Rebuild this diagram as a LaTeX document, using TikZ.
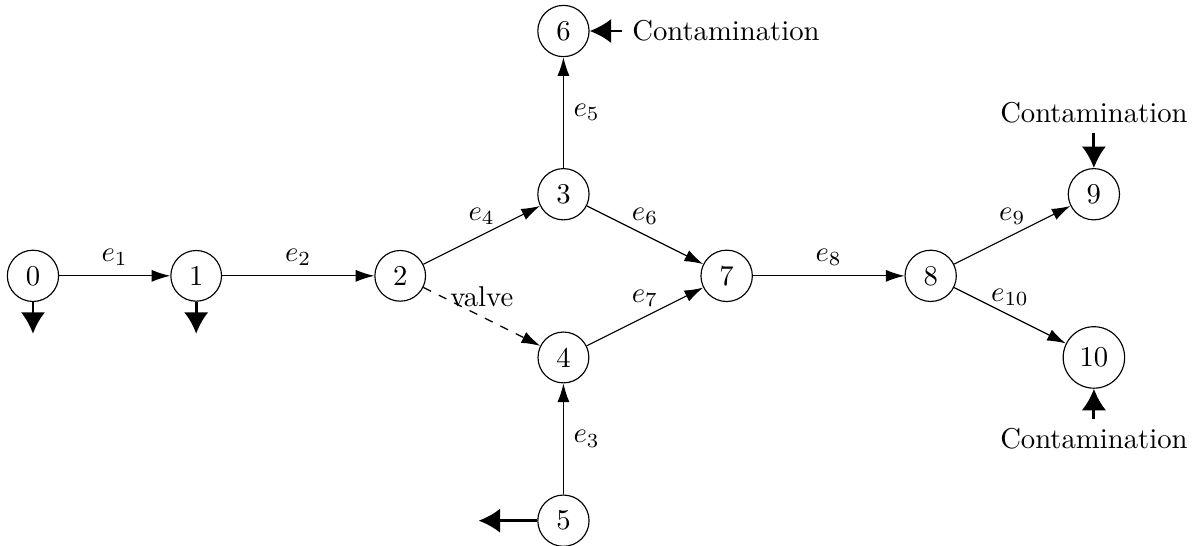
\documentclass[tikz,border=0pt]{standalone}
\usetikzlibrary{arrows.meta}
\begin{document}
\begin{tikzpicture}[
  vtx/.style={circle,draw},
  flow/.style={-{Latex[length=6.5pt,width=4.2pt]}},
  ext/.style={-{Latex[length=7.5pt,width=8.5pt]},line width=1pt},
  lab/.style={above}
]
\useasboundingbox (-0.404,-3.31) rectangle (14.30,3.38);
\node[vtx] (n0) at (0,0) {0};
\node[vtx] (n1) at (2,0) {1};
\node[vtx] (n2) at (4.5,0) {2};
\node[vtx] (n3) at (6.5,1) {3};
\node[vtx] (n4) at (6.5,-1) {4};
\node[vtx] (n5) at (6.5,-3) {5};
\node[vtx] (n6) at (6.5,3) {6};
\node[vtx] (n7) at (8.5,0) {7};
\node[vtx] (n8) at (11,0) {8};
\node[vtx] (n9) at (13,1) {9};
\node[vtx] (n10) at (13,-1) {10};
\node[anchor=west] (c6) at (7.22,3) {Contamination};
\node (c9) at (13,2.0) {Contamination};
\node (c10) at (13,-2.0) {Contamination};
\coordinate (d0) at (0,-0.71);
\coordinate (d1) at (2,-0.71);
\coordinate (d5) at (5.46,-3);

\draw[flow] (n0) -- node[lab] {$e_1$} (n1);
\draw[flow] (n1) -- node[lab] {$e_2$} (n2);
\draw[flow] (n2) -- node[lab] {$e_4$} (n3);
\draw[flow,dashed] (n2) -- node[lab] {valve} (n4);
\draw[flow] (n3) -- node[right] {$e_5$} (n6);
\draw[flow] (n3) -- node[lab] {$e_6$} (n7);
\draw[flow] (n4) -- node[lab] {$e_7$} (n7);
\draw[flow] (n5) -- node[right] {$e_3$} (n4);
\draw[flow] (n7) -- node[lab] {$e_8$} (n8);
\draw[flow] (n8) -- node[lab] {$e_9$} (n9);
\draw[flow] (n8) -- node[lab] {$e_{10}$} (n10);

\draw[ext] (n0.south) -- (d0);
\draw[ext] (n1.south) -- (d1);
\draw[ext] (n5.west) -- (d5);
\draw[ext] (c6.west) -- (n6.east);
\draw[ext] (c9.south) -- (n9.north);
\draw[ext] (c10.north) -- (n10.south);
\end{tikzpicture}
\end{document}
